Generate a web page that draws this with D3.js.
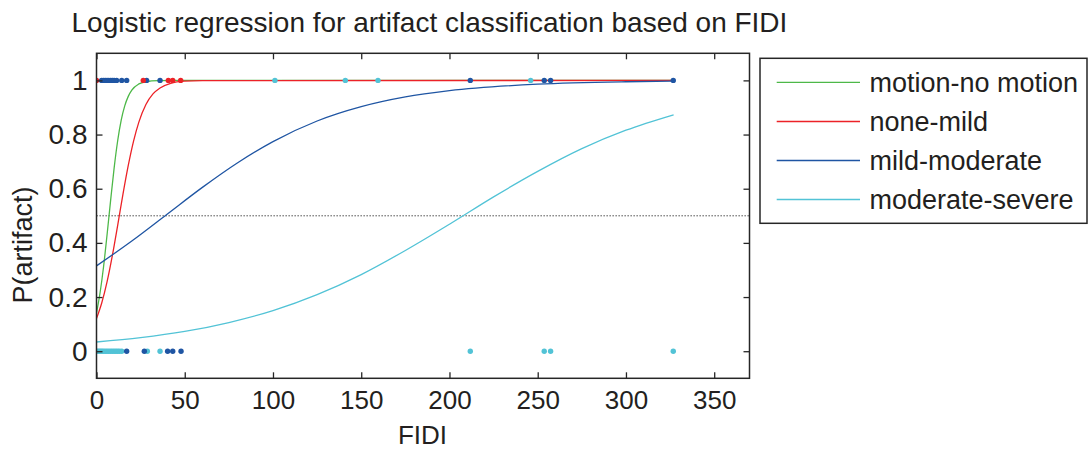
<!DOCTYPE html>
<html>
<head>
<meta charset="utf-8">
<script src="https://cdn.jsdelivr.net/npm/d3@7"></script>
<style>
  html, body { margin: 0; padding: 0; background: #fff; }
  svg { display: block; font-family: "Liberation Sans", Arial, Helvetica, sans-serif; }
</style>
</head>
<body>
<svg id="chart" width="1088" height="450"></svg>
<script>
// ---------- data ----------
const titleText = "Logistic regression for artifact classification based on FIDI";
const xLabelText = "FIDI";
const yLabelText = "P(artifact)";
const xTicks = [0, 50, 100, 150, 200, 250, 300, 350];
const yTicks = [0, 0.2, 0.4, 0.6, 0.8, 1];
const yTickLabels = ["0", "0.2", "0.4", "0.6", "0.8", "1"];
const seriesNames = ["motion-no motion", "none-mild", "mild-moderate", "moderate-severe"];
const thresholdP = 0.5;

// fitted curves (FIDI, probability)
const motionCurveX = [0, 2, 4, 6, 8, 10, 12, 14, 16, 18, 20, 24, 28, 35, 50, 327];
const motionCurveP = [0.141, 0.215, 0.312, 0.431, 0.557, 0.677, 0.777, 0.853, 0.906, 0.941, 0.964, 0.987, 0.995, 0.999, 1.0, 1.0];
const noneMildCurveX = [0, 3, 6, 9, 12, 15, 18, 21, 24, 28, 32, 36, 42, 50, 60, 327];
const noneMildCurveP = [0.121, 0.179, 0.257, 0.354, 0.465, 0.580, 0.686, 0.776, 0.846, 0.911, 0.950, 0.972, 0.989, 0.997, 0.999, 1.0];
const mildModCurveX = [0, 20, 40, 60, 80, 100, 125, 150, 175, 200, 250, 300, 327];
const mildModCurveP = [0.315, 0.407, 0.506, 0.605, 0.696, 0.774, 0.850, 0.903, 0.939, 0.962, 0.986, 0.995, 0.997];
const modSevCurveX = [0, 25, 50, 75, 100, 125, 150, 175, 200, 225, 250, 275, 300, 327];
const modSevCurveP = [0.034, 0.050, 0.073, 0.106, 0.150, 0.209, 0.283, 0.372, 0.469, 0.570, 0.664, 0.748, 0.816, 0.873];

// observations (FIDI) at P = 1 and P = 0
const blueTopX = [2.9, 4, 5, 6, 7, 8, 9, 10, 11.4, 14.3, 17.1, 28.4, 36, 211.8, 253.7, 257.3, 326.8];
const redTopX = [0, 26.5, 40.7, 43.2, 47.7];
const cyanTopX = [101.1, 141, 159.5, 246];
const cyanBottomX = [0, 0.8, 1.6, 2.4, 3.2, 4, 5, 6, 7, 8, 9, 10, 11, 12, 13, 14.3, 28.8, 36, 211.8, 253.7, 257.3, 326.8];
const blueBottomX = [17.1, 27.1, 40.3, 43.2, 47.9];

// ---------- styles ----------
const colors = ["#4db848", "#ec2227", "#1f55a3", "#52c3d6"];
const axisColor = "#262626";
const textColor = "#231f20";

const svg = d3.select("#chart");
const plot = { left: 96.5, right: 749.5, top: 53.3, bottom: 378.3 };

const x = d3.scaleLinear().domain([0, 370]).range([plot.left, plot.right]);
const y = d3.scaleLinear().domain([-0.1, 1.1]).range([plot.bottom, plot.top]);

// title
svg.append("text")
  .attr("x", 71.5).attr("y", 31.5)
  .attr("font-size", 28).attr("fill", textColor)
  .text(titleText);

// clip
svg.append("clipPath").attr("id", "clip")
  .append("rect").attr("x", plot.left).attr("y", plot.top)
  .attr("width", plot.right - plot.left).attr("height", plot.bottom - plot.top);

const g = svg.append("g").attr("clip-path", "url(#clip)");

// threshold dotted line
g.append("line")
  .attr("x1", x(0)).attr("x2", x(370))
  .attr("y1", y(thresholdP)).attr("y2", y(thresholdP))
  .attr("stroke", "#333").attr("stroke-width", 1)
  .attr("stroke-dasharray", "1.3,1.7");

// curves
const curves = [
  [motionCurveX, motionCurveP],
  [noneMildCurveX, noneMildCurveP],
  [mildModCurveX, mildModCurveP],
  [modSevCurveX, modSevCurveP]
];
const line = d3.line().x(d => x(d[0])).y(d => y(d[1])).curve(d3.curveMonotoneX);
curves.forEach((c, i) => {
  const pts = c[0].map((v, k) => [v, c[1][k]]);
  g.append("path").datum(pts)
    .attr("d", line)
    .attr("fill", "none")
    .attr("stroke", colors[i])
    .attr("stroke-width", 1.3);
});

// dots
const dotSets = [
  [blueTopX, 1, colors[2]],
  [redTopX, 1, colors[1]],
  [cyanTopX, 1, colors[3]],
  [cyanBottomX, 0, colors[3]],
  [blueBottomX, 0, colors[2]]
];
dotSets.forEach(([xs, p, col]) => {
  g.selectAll(null).data(xs).enter().append("circle")
    .attr("cx", d => x(d)).attr("cy", y(p))
    .attr("r", 2.7).attr("fill", col);
});

// axes box
svg.append("rect")
  .attr("x", plot.left).attr("y", plot.top)
  .attr("width", plot.right - plot.left).attr("height", plot.bottom - plot.top)
  .attr("fill", "none").attr("stroke", axisColor).attr("stroke-width", 1.5);

const tickLen = 6;
const xAxisB = svg.append("g").attr("transform", `translate(0,${plot.bottom})`)
  .call(d3.axisBottom(x).tickValues(xTicks).tickSizeInner(-tickLen).tickSizeOuter(0).tickPadding(12));
const xAxisT = svg.append("g").attr("transform", `translate(0,${plot.top})`)
  .call(d3.axisTop(x).tickValues(xTicks).tickSizeInner(-tickLen).tickSizeOuter(0).tickFormat(""));
const yAxisL = svg.append("g").attr("transform", `translate(${plot.left},0)`)
  .call(d3.axisLeft(y).tickValues(yTicks).tickSizeInner(-tickLen).tickSizeOuter(0).tickPadding(9)
    .tickFormat((d, i) => yTickLabels[i]));
const yAxisR = svg.append("g").attr("transform", `translate(${plot.right},0)`)
  .call(d3.axisRight(y).tickValues(yTicks).tickSizeInner(-tickLen).tickSizeOuter(0).tickFormat(""));

[xAxisB, xAxisT, yAxisL, yAxisR].forEach(a => {
  a.select(".domain").remove();
  a.selectAll(".tick line").attr("stroke", axisColor).attr("stroke-width", 1.3);
  a.selectAll("text").attr("fill", textColor).attr("font-family", "Liberation Sans, Arial, sans-serif");
});
xAxisB.selectAll("text").attr("font-size", 26).attr("dy", "0.71em");
yAxisL.selectAll("text").attr("font-size", 28);

// axis labels
svg.append("text")
  .attr("x", 422.5).attr("y", 444)
  .attr("text-anchor", "middle")
  .attr("font-size", 26).attr("fill", textColor)
  .text(xLabelText);

svg.append("text")
  .attr("transform", "translate(32,245) rotate(-90)")
  .attr("text-anchor", "middle")
  .attr("font-size", 27).attr("fill", textColor)
  .text(yLabelText);

// legend
const leg = svg.append("g");
leg.append("rect")
  .attr("x", 760).attr("y", 58.3).attr("width", 327).attr("height", 165)
  .attr("fill", "#fff").attr("stroke", axisColor).attr("stroke-width", 1.5);
const rowY = [82.3, 121.5, 160.5, 199.5];
seriesNames.forEach((name, i) => {
  leg.append("line")
    .attr("x1", 776.7).attr("x2", 860)
    .attr("y1", rowY[i]).attr("y2", rowY[i])
    .attr("stroke", colors[i]).attr("stroke-width", 1.3);
  leg.append("text")
    .attr("x", 869.5).attr("y", rowY[i]).attr("dy", "0.35em")
    .attr("font-size", 27).attr("fill", textColor)
    .text(name);
});
</script>
</body>
</html>
